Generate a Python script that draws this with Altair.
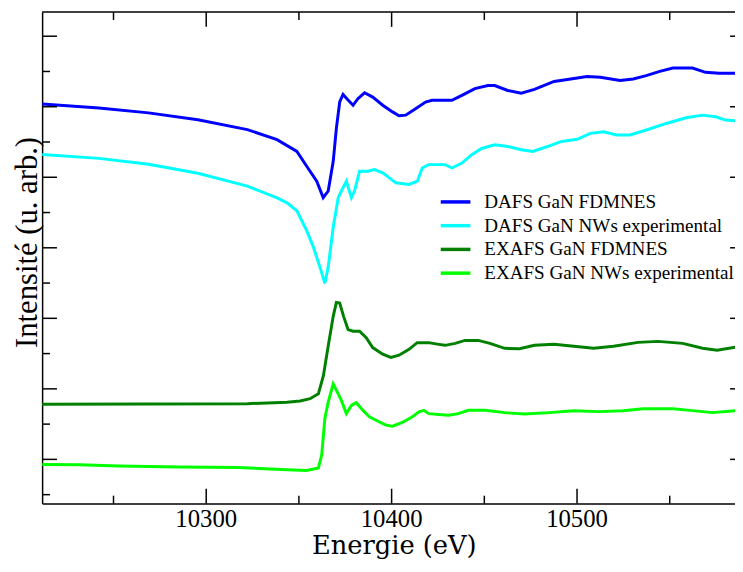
import altair as alt
import pandas as pd

# ---- data (energy in eV, intensity in arbitrary units) ----
dafs_fdmnes_E = [10211.5, 10242.2, 10268.9, 10295.5, 10322.2, 10338.2, 10348.9, 10354.2, 10359.6, 10363.1,
                 10365.8, 10368.5, 10370.2, 10372.0, 10373.8, 10376.5, 10379.2, 10381.8, 10385.4, 10389.8,
                 10395.2, 10400.5, 10404.0, 10407.6, 10412.9, 10418.3, 10421.8, 10432.5, 10437.9, 10444.9,
                 10451.9, 10455.6, 10462.6, 10469.9, 10477.0, 10487.6, 10496.6, 10505.4, 10512.6, 10523.2,
                 10530.3, 10537.3, 10544.6, 10551.7, 10562.3, 10569.3, 10576.6, 10585.3, 10591.0]
dafs_fdmnes_I = [5.039, 4.983, 4.913, 4.815, 4.675, 4.534, 4.366, 4.156, 3.945, 3.711,
                 3.805, 4.226, 4.693, 5.067, 5.175, 5.095, 5.021, 5.114, 5.198, 5.137,
                 5.021, 4.927, 4.871, 4.881, 4.973, 5.067, 5.091, 5.091, 5.161, 5.257,
                 5.301, 5.301, 5.231, 5.193, 5.245, 5.358, 5.394, 5.428, 5.418, 5.372,
                 5.394, 5.442, 5.502, 5.548, 5.548, 5.488, 5.474, 5.474, 5.474]

dafs_exp_E = [10211.5, 10242.2, 10268.9, 10295.5, 10322.2, 10338.2, 10343.6, 10348.9, 10354.2, 10357.8,
              10361.3, 10364.0, 10365.8, 10368.5, 10371.2, 10372.9, 10375.6, 10378.3, 10380.0, 10382.7,
              10387.2, 10390.7, 10395.2, 10402.3, 10409.4, 10413.9, 10416.5, 10420.0, 10428.9, 10432.5,
              10437.9, 10443.2, 10448.5, 10455.6, 10462.7, 10469.9, 10476.1, 10484.1, 10491.2, 10500.1,
              10507.2, 10514.3, 10521.4, 10528.6, 10537.4, 10548.1, 10558.8, 10567.7, 10574.8, 10580.1,
              10585.3, 10591.0]
dafs_exp_I = [4.324, 4.268, 4.184, 4.057, 3.875, 3.707, 3.637, 3.525, 3.244, 3.010,
              2.729, 2.496, 2.729, 3.290, 3.711, 3.805, 3.945, 3.711, 3.805, 4.085,
              4.085, 4.109, 4.062, 3.921, 3.899, 3.945, 4.132, 4.179, 4.179, 4.132,
              4.202, 4.320, 4.408, 4.460, 4.436, 4.390, 4.366, 4.436, 4.506, 4.538,
              4.623, 4.646, 4.600, 4.600, 4.670, 4.763, 4.843, 4.881, 4.857, 4.811,
              4.801, 4.801]

exafs_fdmnes_E = [10211.5, 10268.9, 10322.2, 10343.6, 10350.7, 10356.0, 10360.5, 10363.2, 10365.8, 10368.5,
                  10370.2, 10372.0, 10374.1, 10376.5, 10379.2, 10382.7, 10386.3, 10389.8, 10395.2, 10399.6,
                  10404.0, 10409.4, 10413.8, 10420.0, 10425.4, 10428.9, 10434.3, 10439.6, 10446.7, 10453.0,
                  10461.0, 10469.0, 10477.0, 10487.6, 10498.3, 10509.0, 10519.7, 10532.9, 10543.7, 10557.0,
                  10567.7, 10575.6, 10585.3, 10591.0]
exafs_fdmnes_I = [0.783, 0.785, 0.790, 0.811, 0.827, 0.860, 0.930, 1.187, 1.607, 2.028,
                  2.224, 2.216, 2.028, 1.841, 1.818, 1.818, 1.725, 1.585, 1.491, 1.445,
                  1.477, 1.561, 1.655, 1.655, 1.631, 1.617, 1.645, 1.687, 1.687, 1.645,
                  1.575, 1.568, 1.617, 1.631, 1.603, 1.575, 1.603, 1.659, 1.673, 1.645,
                  1.575, 1.547, 1.589, 1.589]

exafs_exp_E = [10211.5, 10231.5, 10252.9, 10284.9, 10316.9, 10343.6, 10354.2, 10360.5, 10362.3, 10364.0,
               10365.8, 10368.5, 10371.2, 10372.9, 10375.6, 10378.3, 10380.9, 10384.5, 10388.0, 10391.6,
               10396.9, 10400.5, 10405.8, 10411.2, 10414.7, 10417.4, 10420.0, 10425.4, 10430.7, 10436.0,
               10441.4, 10450.3, 10461.0, 10471.6, 10485.0, 10498.3, 10511.7, 10524.9, 10535.6, 10551.7,
               10562.3, 10573.0, 10585.3, 10591.0]
exafs_exp_I = [-0.073, -0.077, -0.094, -0.108, -0.115, -0.146, -0.157, -0.122, 0.065, 0.579,
               0.813, 1.070, 0.930, 0.836, 0.649, 0.766, 0.804, 0.696, 0.603, 0.555,
               0.485, 0.471, 0.523, 0.603, 0.673, 0.696, 0.649, 0.635, 0.626, 0.649,
               0.696, 0.696, 0.663, 0.642, 0.663, 0.691, 0.677, 0.691, 0.719, 0.719,
               0.691, 0.663, 0.691, 0.691]

series_names = ["DAFS GaN FDMNES", "DAFS GaN NWs experimental",
                "EXAFS GaN FDMNES", "EXAFS GaN NWs experimental"]
series_colors = ["#0000ff", "#00ffff", "#008000", "#00ff00"]

x_major = [10300, 10400, 10500]
x_minor = [10250, 10350, 10450, 10550]
x_tick_labels = ["10300", "10400", "10500"]
y_major = [0, 1, 2, 3, 4, 5, 6]
y_minor = [-0.5, 0.5, 1.5, 2.5, 3.5, 4.5, 5.5]

x_title = "Energie (eV)"
y_title = "Intensité (u. arb.)"

x_domain = [10211.5, 10585.2]
y_domain = [-0.627, 6.343]

# ---- tables ----
rows = []
for name, es, ins in zip(series_names,
                         [dafs_fdmnes_E, dafs_exp_E, exafs_fdmnes_E, exafs_exp_E],
                         [dafs_fdmnes_I, dafs_exp_I, exafs_fdmnes_I, exafs_exp_I]):
    for i, (e, v) in enumerate(zip(es, ins)):
        rows.append({"E": e, "I": v, "serie": name, "k": i})
df = pd.DataFrame(rows)

W, H = 700.5, 497
MAJ, MIN = 15, 8
SERIF = "Liberation Serif"

xs = alt.Scale(domain=x_domain, nice=False, zero=False)
ys = alt.Scale(domain=y_domain, nice=False, zero=False)

# axes only draw the left and bottom frame lines; labels and titles are text marks below
x_axis = alt.Axis(labels=False, ticks=False, tickSize=0, domain=True, grid=False, title=None,
                  domainColor="black", domainWidth=1.5)
y_axis = alt.Axis(labels=False, ticks=False, tickSize=0, domain=True, grid=False, title=None,
                  domainColor="black", domainWidth=1.5)

lines = alt.Chart(df).mark_line(strokeWidth=3, clip=True).encode(
    x=alt.X("E:Q", scale=xs, axis=x_axis),
    y=alt.Y("I:Q", scale=ys, axis=y_axis),
    color=alt.Color("serie:N", scale=alt.Scale(domain=series_names, range=series_colors),
                    legend=alt.Legend(orient="none", legendX=406, legendY=180, title=None,
                                      symbolType="M-1.5,0H1.5", symbolSize=400, symbolStrokeWidth=3.5,
                                      labelFont=SERIF, labelFontSize=19.3, labelColor="black",
                                      labelLimit=400, labelOffset=17, rowPadding=1, padding=0)),
    order="k:Q",
)

def tick_layer(values, field, length, side):
    d = pd.DataFrame({field: values})
    base = alt.Chart(d).mark_rule(color="black", strokeWidth=1.5)
    if side == "bottom":
        return base.encode(x=alt.X(f"{field}:Q", scale=xs, axis=x_axis), y=alt.value(H), y2=alt.value(H - length))
    if side == "top":
        return base.encode(x=alt.X(f"{field}:Q", scale=xs, axis=x_axis), y=alt.value(0), y2=alt.value(length))
    if side == "left":
        return base.encode(y=alt.Y(f"{field}:Q", scale=ys, axis=y_axis), x=alt.value(0), x2=alt.value(length))
    return base.encode(y=alt.Y(f"{field}:Q", scale=ys, axis=y_axis), x=alt.value(W - length), x2=alt.value(W))

ticks = []
for side in ["bottom", "top"]:
    ticks.append(tick_layer(x_major, "xt", MAJ, side))
    ticks.append(tick_layer(x_minor, "xt", MIN, side))
ticks.append(tick_layer(y_major, "yt", MAJ, "left"))
ticks.append(tick_layer(y_minor, "yt", MIN, "left"))
# the right edge of the reference is cut by the picture border: only the tips of the major ticks show
ticks.append(tick_layer(y_major, "yt", 5, "right"))

top_frame = alt.Chart(pd.DataFrame({"f": [0]})).mark_rule(color="black", strokeWidth=1.5).encode(
    x=alt.value(0), x2=alt.value(W), y=alt.value(0))

tick_labels = alt.Chart(pd.DataFrame({"xt": x_major, "lab": x_tick_labels})).mark_text(
    font="Times New Roman", fontSize=25, fontWeight="normal", color="black",
    baseline="alphabetic", align="center"
).encode(x=alt.X("xt:Q", scale=xs, axis=x_axis), y=alt.value(H + 24), text="lab:N")

xtitle = alt.Chart(pd.DataFrame({"t": [x_title]})).mark_text(
    font="DejaVu Serif", fontSize=26, fontWeight="normal", color="black",
    baseline="alphabetic", align="center"
).encode(x=alt.value(356), y=alt.value(H + 51), text="t:N")

ytitle = alt.Chart(pd.DataFrame({"t": [y_title]})).mark_text(
    font="serif", fontSize=31, fontWeight="normal", color="black",
    baseline="alphabetic", align="center", angle=270
).encode(x=alt.value(-5), y=alt.value(233), text="t:N")

chart = alt.layer(lines, *ticks, top_frame, tick_labels, xtitle, ytitle).properties(
    width=W, height=H,
    autosize=alt.AutoSizeParams(type="none"),
    padding={"left": 34.5, "top": 1, "right": 0, "bottom": 58},
    background="white",
).configure_view(stroke=None)

chart.save("out.html", embed_options={"renderer": "svg", "actions": False})
